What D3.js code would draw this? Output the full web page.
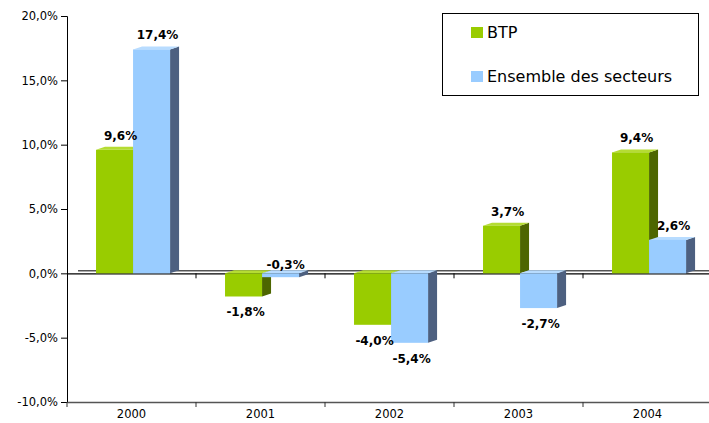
<!DOCTYPE html>
<html><head><meta charset="utf-8">
<script src="https://cdn.jsdelivr.net/npm/d3@7"></script>
<style>body{margin:0;background:#fff}svg{display:block}</style>
</head><body>
<svg id="c" width="709" height="423"></svg>
<script>
const years = ["2000","2001","2002","2003","2004"];
const seriesNames = ["BTP","Ensemble des secteurs"];
const btp = [9.6,-1.8,-4.0,3.7,9.4];
const ensemble = [17.4,-0.3,-5.4,-2.7,2.6];
const yTicks = [-10,-5,0,5,10,15,20];

const colors = {
  "BTP": {front:"#99cc00", side:"#4d6600", top:"#b5dc33"},
  "Ensemble des secteurs": {front:"#99ccff", side:"#4d6080", top:"#b8dcff"}
};
const values = {"BTP": btp, "Ensemble des secteurs": ensemble};

const svg = d3.select("#c");
const fmt = v => d3.format(".1f")(v).replace(".", ",").replace("\u2212","-") + "%";

const y = d3.scaleLinear().domain([-10,20]).range([402,16]);
const x0 = d3.scaleBand().domain(years).range([67,712]);
const bw = x0.bandwidth();
const x1 = d3.scaleBand().domain(seriesNames).range([bw*0.225, bw*0.225 + bw*0.574]);
const dx = 9, dy = -3;
const y0 = y(0);
const FONT = "DejaVu Sans, Verdana, sans-serif";

// y axis
const yAxis = svg.append("g").attr("transform","translate(67,0)")
  .call(d3.axisLeft(y).tickValues(yTicks).tickSize(6).tickPadding(3).tickFormat(fmt));
yAxis.select(".domain").attr("stroke","#000");
yAxis.selectAll(".tick line").attr("stroke","#000");
yAxis.selectAll("text").attr("font-family",FONT).attr("font-size",11.5).attr("fill","#000");

// bottom axis
const xAxis = svg.append("g").attr("transform","translate(0,402)")
  .call(d3.axisBottom(x0).tickSize(0).tickPadding(8));
xAxis.select(".domain").attr("stroke","#555").attr("stroke-width",1.5);
xAxis.selectAll("text").attr("font-family",FONT).attr("font-size",11.5).attr("fill","#000");
const bounds = years.map(d => x0(d));
svg.append("g").selectAll("line").data(bounds).join("line")
  .attr("x1",d=>d).attr("x2",d=>d).attr("y1",402).attr("y2",407).attr("stroke","#333");

// floor back line
svg.append("line").attr("x1",67+11).attr("x2",709).attr("y1",y0+dy+0.5).attr("y2",y0+dy+0.5).attr("stroke","#000");
// zero axis line
svg.append("line").attr("x1",67).attr("x2",709).attr("y1",y0+0.5).attr("y2",y0+0.5).attr("stroke","#000").attr("stroke-width",1.3);
svg.append("g").selectAll("line").data(bounds.slice(1)).join("line")
  .attr("x1",d=>d).attr("x2",d=>d).attr("y1",y0).attr("y2",y0+5).attr("stroke","#000");

// bars
const g = svg.append("g");
years.forEach((yr,i) => {
  seriesNames.forEach(s => {
    const v = values[s][i];
    const c = colors[s];
    const xa = x0(yr) + x1(s), xb = xa + x1.bandwidth();
    const top = Math.min(y(v), y0), bot = Math.max(y(v), y0);
    g.append("polygon").attr("fill",c.side)
      .attr("points",[[xb,top],[xb+dx,top+dy],[xb+dx,bot+dy],[xb,bot]].join(" "));
    g.append("polygon").attr("fill",c.top)
      .attr("points",[[xa,top],[xa+dx,top+dy],[xb+dx,top+dy],[xb,top]].join(" "));
    g.append("rect").attr("x",xa).attr("y",top).attr("width",xb-xa).attr("height",Math.max(bot-top,0.5)).attr("fill",c.front);
  });
});

// labels
const lg = svg.append("g").attr("font-family",FONT).attr("font-size",12).attr("font-weight","bold").attr("text-anchor","middle").attr("fill","#000");
years.forEach((yr,i) => {
  seriesNames.forEach(s => {
    const v = values[s][i];
    const xc = x0(yr) + x1(s) + x1.bandwidth()/2;
    let tx, ty;
    if (v >= 0) { tx = xc + 6; ty = y(v) - 10; }
    else if (v > -1) { tx = xc + 5; ty = y0 - 4; }
    else { tx = xc + 2; ty = y(v) + 20; }
    lg.append("text").attr("x",tx).attr("y",ty).text(fmt(v));
  });
});

// legend
const leg = svg.append("g");
leg.append("rect").attr("x",442.5).attr("y",13.5).attr("width",256).attr("height",82).attr("fill","#fff").attr("stroke","#000");
seriesNames.forEach((s,k) => {
  const by = 38 + k*44;
  leg.append("rect").attr("x",471).attr("y",by-11).attr("width",12).attr("height",11).attr("fill",colors[s].front);
  leg.append("text").attr("x",487).attr("y",by).attr("font-family",FONT).attr("font-size",16).attr("fill","#000").text(s);
});
</script>
</body></html>
